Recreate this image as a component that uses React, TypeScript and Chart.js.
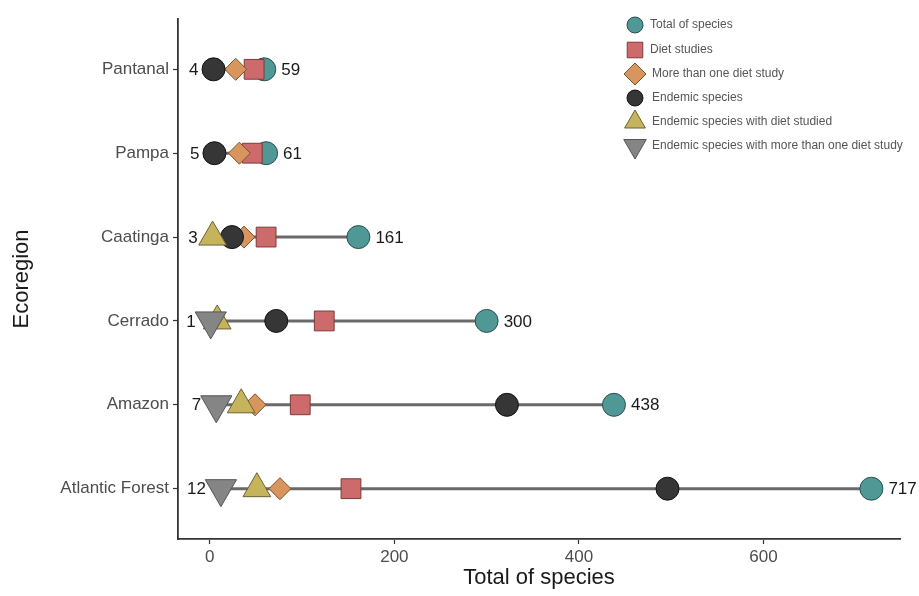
import { useEffect, useRef } from "react";
import { Chart, registerables } from "chart.js";
import { drawPoint } from "chart.js/helpers";

Chart.register(...registerables);

// ---- data ----
const categories = ["Pantanal", "Pampa", "Caatinga", "Cerrado", "Amazon", "Atlantic Forest"];
const totalSpecies = [59, 61, 161, 300, 438, 717];
const dietStudies = [48, 46, 61, 124, 98, 153];
const moreThanOneDiet = [28, 32, 37, 72, 49, 76];
const endemicSpecies = [4, 5, 24, 72, 322, 496];
const endemicWithDiet = [null, null, 3, 8, 34, 51];
const endemicMoreThanOne = [null, null, null, 1, 7, 12];
const xTickValues = [0, 200, 400, 600];

const seriesNames = [
  "Total of species",
  "Diet studies",
  "More than one diet study",
  "Endemic species",
  "Endemic species with diet studied",
  "Endemic species with more than one diet study",
];

const FONT = "'Liberation Sans', Arial, Helvetica, sans-serif";

const styles = [
  { pointStyle: "circle", radius: 11.5, rotation: 0, fill: "#4f9896", stroke: "#2b4f4e", lr: 8 },
  { pointStyle: "rect", radius: 14, rotation: 0, fill: "#cd6a6b", stroke: "#7b3b3c", lr: 11 },
  { pointStyle: "rectRot", radius: 11, rotation: 0, fill: "#d8955e", stroke: "#7a5232", lr: 11 },
  { pointStyle: "circle", radius: 11.5, rotation: 0, fill: "#363636", stroke: "#111111", lr: 8 },
  { pointStyle: "triangle", radius: 16, rotation: 0, fill: "#c6b45d", stroke: "#6b6133", lr: 12 },
  { pointStyle: "triangle", radius: 18, rotation: 180, fill: "#858585", stroke: "#555555", lr: 13 },
];

const seriesValues = [totalSpecies, dietStudies, moreThanOneDiet, endemicSpecies, endemicWithDiet, endemicMoreThanOne];

const rowMin = categories.map((_, i) =>
  Math.min(...seriesValues.map((s) => s[i]).filter((v) => v !== null && v !== undefined) as number[])
);

const legendRowsY = [25, 50, 74, 98, 122, 146];

const labelPlugin = {
  id: "labelsAndLegend",
  afterDatasetsDraw(chart: any) {
    const { ctx, scales } = chart;
    const x = scales.x;
    const y = scales.y;
    ctx.save();
    ctx.font = `17px ${FONT}`;
    ctx.fillStyle = "#1a1a1a";
    ctx.textBaseline = "middle";
    categories.forEach((_, i) => {
      const yy = y.getPixelForValue(i + 1);
      ctx.textAlign = "right";
      ctx.fillText(String(rowMin[i]), x.getPixelForValue(rowMin[i]) - 15, yy + 1);
      ctx.textAlign = "left";
      ctx.fillText(String(totalSpecies[i]), x.getPixelForValue(totalSpecies[i]) + 17, yy + 1);
    });
    // legend
    ctx.font = `12px ${FONT}`;
    ctx.textAlign = "left";
    seriesNames.forEach((name, k) => {
      const st = styles[k];
      const ly = legendRowsY[k];
      ctx.fillStyle = st.fill;
      ctx.strokeStyle = st.stroke;
      ctx.lineWidth = 1;
      drawPoint(ctx, { pointStyle: st.pointStyle, radius: st.lr, rotation: st.rotation, borderWidth: 1 } as any, 635, ly);
      ctx.fillStyle = "#555555";
      ctx.fillText(name, k < 2 ? 650 : 652, ly);
    });
    ctx.restore();
  },
};

export default function App() {
  const ref = useRef<HTMLCanvasElement>(null);
  useEffect(() => {
    const lineSets = categories.map((c, i) => ({
      type: "scatter" as const,
      label: "seg-" + c,
      data: [
        { x: rowMin[i], y: i + 1 },
        { x: totalSpecies[i], y: i + 1 },
      ],
      showLine: true,
      borderColor: "#6a6a6a",
      borderWidth: 3,
      pointRadius: 0,
      order: 100,
    }));
    const pointSets = seriesNames.map((name, k) => {
      const st = styles[k];
      return {
        type: "scatter" as const,
        label: name,
        data: categories
          .map((_, i) => ({ x: seriesValues[k][i], y: i + 1 }))
          .filter((p) => p.x !== null && p.x !== undefined),
        pointStyle: st.pointStyle,
        pointRadius: st.radius,
        pointRotation: st.rotation,
        backgroundColor: st.fill,
        borderColor: st.stroke,
        pointBorderWidth: 1,
        borderWidth: 1,
        order: 50 - k,
      };
    });
    const chart = new Chart(ref.current!, {
      type: "scatter",
      data: { datasets: [...lineSets, ...pointSets] as any },
      options: {
        responsive: false,
        animation: false,
        devicePixelRatio: 1,
        layout: { padding: { left: 0, top: 8, right: 16, bottom: 0 } },
        plugins: {
          legend: { display: false },
          tooltip: { enabled: false },
        },
        scales: {
          x: {
            type: "linear",
            min: -34.5,
            max: 748,
            afterBuildTicks: (s: any) => {
              s.ticks = xTickValues.map((v) => ({ value: v }));
            },
            afterFit: (s: any) => {
              s.height = 57;
            },
            ticks: {
              color: "#4d4d4d",
              font: { family: FONT, size: 17 },
              padding: 3,
              autoSkip: false,
              maxRotation: 0,
            },
            grid: { display: true, drawOnChartArea: false, drawTicks: true, tickLength: 5, tickColor: "#333333", tickWidth: 1.2 },
            border: { display: true, color: "#333333", width: 1.8 },
            title: {
              display: true,
              text: "Total of species",
              color: "#1a1a1a",
              font: { family: FONT, size: 22 },
              padding: { top: 0, bottom: 5 },
            },
          },
          y: {
            type: "linear",
            reverse: true,
            min: 0.4,
            max: 6.6,
            afterBuildTicks: (s: any) => {
              s.ticks = categories.map((_, i) => ({ value: i + 1 }));
            },
            afterFit: (s: any) => {
              s.width = 178;
            },
            ticks: {
              callback: (v: any) => categories[Math.round(v) - 1] ?? "",
              color: "#4d4d4d",
              font: { family: FONT, size: 17 },
              padding: 4,
              autoSkip: false,
            },
            grid: { display: true, drawOnChartArea: false, drawTicks: true, tickLength: 5, tickColor: "#333333", tickWidth: 1.2 },
            border: { display: true, color: "#333333", width: 1.8 },
            title: {
              display: true,
              text: "Ecoregion",
              color: "#1a1a1a",
              font: { family: FONT, size: 22 },
              padding: { top: 9, bottom: 0 },
            },
          },
        },
      },
      plugins: [labelPlugin],
    });
    return () => chart.destroy();
  }, []);
  return (
    <div style={{ position: "fixed", left: 0, top: 0, width: 919, height: 596, background: "#ffffff" }}>
      <canvas ref={ref} width={919} height={596} style={{ display: "block", width: 919, height: 596 }} />
    </div>
  );
}
